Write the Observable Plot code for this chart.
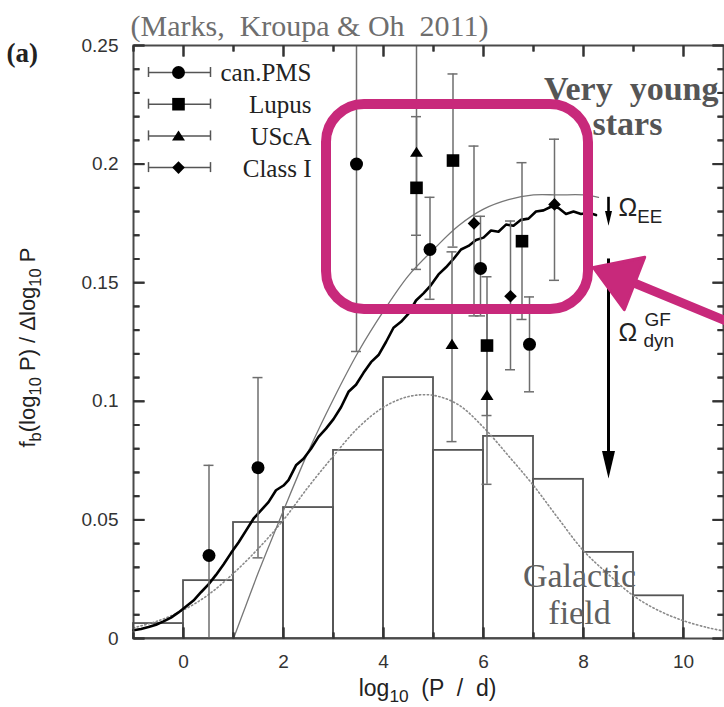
<!DOCTYPE html>
<html>
<head>
<meta charset="utf-8">
<script src="https://cdn.jsdelivr.net/npm/d3@7"></script>
<script src="https://cdn.jsdelivr.net/npm/@observablehq/plot@0.6"></script>
<style>
  html, body { margin: 0; padding: 0; background: #fff; }
  #chart { width: 724px; height: 707px; }
  #chart svg text { white-space: pre; }
</style>
</head>
<body>
<div id="chart"></div>
<script>
// ---------- data ----------
// Galactic-field binary fraction per unit log10(P/d) (histogram bins)
const binLo = [-1, 0, 1, 2, 3, 4, 5, 6, 7, 8, 9];
const binHi = [0, 1, 2, 3, 4, 5, 6, 7, 8, 9, 10];
const fieldFraction = [0.0063, 0.0244, 0.0489, 0.0552, 0.0793, 0.1100, 0.0793, 0.0852, 0.0671, 0.0363, 0.0180];

// log-normal description of the field (dotted)
const fitLogP = [-1, -0.5, 0, 0.5, 1, 1.5, 2, 2.5, 3, 3.5, 4, 4.5, 5, 5.5, 6, 6.5, 7, 7.5, 8, 8.5, 9, 9.5, 10, 10.5, 10.8];
const fitFrac = [0.0045, 0.0075, 0.0120, 0.0185, 0.0275, 0.0380, 0.0500, 0.0640, 0.0770, 0.0890, 0.0975, 0.1020, 0.1025, 0.0985, 0.0890, 0.0770, 0.0645, 0.0505, 0.0370, 0.0270, 0.0180, 0.0118, 0.0075, 0.0045, 0.0032];

// birth period distribution (thin line)
const birthLogP = [1, 1.25, 1.5, 2, 2.5, 3, 3.5, 4, 4.5, 5, 5.5, 6, 6.5, 7, 7.5, 8, 8.3];
const birthFrac = [0, 0.014, 0.028, 0.054, 0.079, 0.101, 0.121, 0.138, 0.153, 0.164, 0.174, 0.181, 0.185, 0.187, 0.187, 0.187, 0.186];

// dynamically processed population (thick line)
const evolvedLogP = [-1.00, -0.85, -0.70, -0.55, -0.40, -0.25, -0.10, 0.05, 0.20, 0.35, 0.50, 0.65, 0.80, 0.95, 1.10, 1.25, 1.40, 1.55, 1.70, 1.85, 2.00, 2.10, 2.25, 2.40, 2.55, 2.70, 2.85, 3.00, 3.15, 3.30, 3.45, 3.60, 3.75, 3.90, 4.05, 4.20, 4.35, 4.50, 4.65, 4.80, 4.95, 5.10, 5.25, 5.40, 5.55, 5.70, 5.85, 6.00, 6.15, 6.30, 6.45, 6.60, 6.75, 6.90, 7.05, 7.20, 7.35, 7.50, 7.65, 7.80, 7.95, 8.10, 8.25];
const evolvedFrac = [0.0035, 0.0040, 0.0048, 0.0058, 0.0072, 0.0088, 0.0110, 0.0135, 0.0160, 0.0195, 0.0228, 0.0268, 0.0312, 0.0360, 0.0405, 0.0455, 0.0505, 0.0540, 0.0575, 0.0625, 0.0645, 0.0668, 0.0730, 0.0758, 0.0800, 0.0850, 0.0885, 0.0925, 0.0975, 0.1040, 0.1070, 0.1120, 0.1165, 0.1195, 0.1250, 0.1310, 0.1335, 0.1370, 0.1425, 0.1455, 0.1490, 0.1535, 0.1565, 0.1600, 0.1640, 0.1655, 0.1680, 0.1690, 0.1720, 0.1715, 0.1745, 0.1740, 0.1765, 0.1770, 0.1800, 0.1805, 0.1820, 0.1815, 0.1790, 0.1800, 0.1790, 0.1795, 0.1785];

// observed young populations: log10 P, fraction, lower and upper error
const pmsLogP = [0.51, 1.49, 3.46, 4.93, 5.94, 6.92];
const pmsFrac = [0.035, 0.072, 0.200, 0.164, 0.156, 0.124];
const pmsLo   = [0, 0.034, 0.121, 0.143, 0.136, 0.104];
const pmsHi   = [0.073, 0.110, 0.270, 0.186, 0.178, 0.144];

const lupusLogP = [4.66, 5.39, 6.07, 6.77];
const lupusFrac = [0.190, 0.2015, 0.1235, 0.1675];
const lupusLo   = [0.1556, 0.165, 0.094, 0.1345];
const lupusHi   = [0.220, 0.238, 0.1525, 0.2006];

const uscaLogP = [4.66, 5.37, 6.07];
const uscaFrac = [0.205, 0.124, 0.1025];
const uscaLo   = [0.170, 0.083, 0.065];
const uscaHi   = [0.270, 0.163, 0.140];

const classILogP = [5.81, 6.54, 7.42];
const classIFrac = [0.175, 0.1443, 0.183];
const classILo   = [0.136, 0.1133, 0.151];
const classIHi   = [0.2076, 0.176, 0.2105];

const sampleNames = ["can.PMS", "Lupus", "UScA", "Class I"];

// axis ticks
const xTicks = [0, 2, 4, 6, 8, 10];
const xTickLabels = ["0", "2", "4", "6", "8", "10"];
const xMinorTicks = [-1, 1, 3, 5, 7, 9];
const yTicks = [0, 0.05, 0.1, 0.15, 0.2, 0.25];
const yTickLabels = ["0", "0.05", "0.1", "0.15", "0.2", "0.25"];
const yMinorTicks = [0.01, 0.02, 0.03, 0.04, 0.06, 0.07, 0.08, 0.09, 0.11, 0.12, 0.13, 0.14, 0.16, 0.17, 0.18, 0.19, 0.21, 0.22, 0.23, 0.24];

// Omega arrows at log10 P = 8.5 (from, to)
const omegaX = 8.5;
const omegaEE = [0.186, 0.174];
const omegaDyn = [0.160, 0.0675];

// ---------- layout ----------
const W = 724, H = 707;
const M = {left: 133, right: 1, top: 45, bottom: 69};
const xDomain = [-1, 10.8], yDomain = [0, 0.25];
const kx = (W - M.left - M.right) / (xDomain[1] - xDomain[0]);
const ky = (H - M.top - M.bottom) / (yDomain[1] - yDomain[0]);
const X = px => xDomain[0] + (px - M.left) / kx;   // page px -> log10 P
const Y = py => yDomain[0] + (H - M.bottom - py) / ky; // page px -> fraction

const serif = "'Liberation Serif', 'Times New Roman', serif";
const sans = "'Liberation Sans', Arial, Helvetica, sans-serif";
const magenta = "#c8297b";
const tickColor = "#333";

// ---------- symbols ----------
const squareSym = {draw(c, size) { const s = Math.sqrt(size / Math.PI); c.rect(-s, -s, 2 * s, 2 * s); }};
const triangleSym = {draw(c, size) { const s = Math.sqrt(size / Math.PI); c.moveTo(0, -0.85 * s); c.lineTo(s, 0.7 * s); c.lineTo(-s, 0.7 * s); c.closePath(); }};
const diamondSym = {draw(c, size) { const s = Math.sqrt(size / Math.PI); c.moveTo(0, -s); c.lineTo(s, 0); c.lineTo(0, s); c.lineTo(-s, 0); c.closePath(); }};
// arrowheads with the tip at the origin
const downHead = {draw(c, size) { const s = Math.sqrt(size / Math.PI); c.moveTo(0, 0); c.lineTo(-s / 2, -2.1 * s); c.lineTo(s / 2, -2.1 * s); c.closePath(); }};
const upHead = {draw(c, size) { const s = Math.sqrt(size / Math.PI); c.moveTo(0, 0); c.lineTo(-0.64 * s, s); c.lineTo(0.64 * s, s); c.closePath(); }};
// tick-mark glyph: a segment of length r pointing inward from the axis
const tickGlyph = (dx, dy) => ({draw(c, size) { const s = Math.sqrt(size / Math.PI); c.moveTo(0, 0); c.lineTo(dx * s, dy * s); }});

// ---------- tables ----------
const bins = binLo.map((lo, i) => ({lo, hi: binHi[i], f: fieldFraction[i]}));
const fitCurve = fitLogP.map((x, i) => ({x, y: fitFrac[i]}));
const birthCurve = birthLogP.map((x, i) => ({x, y: birthFrac[i]}));
const evolvedCurve = evolvedLogP.map((x, i) => ({x, y: evolvedFrac[i]}));

const samples = [
  {name: sampleNames[0], symbol: "circle", r: 6.5, logP: pmsLogP, f: pmsFrac, lo: pmsLo, hi: pmsHi},
  {name: sampleNames[1], symbol: squareSym, r: 6.3, logP: lupusLogP, f: lupusFrac, lo: lupusLo, hi: lupusHi},
  {name: sampleNames[2], symbol: triangleSym, r: 6.5, logP: uscaLogP, f: uscaFrac, lo: uscaLo, hi: uscaHi},
  {name: sampleNames[3], symbol: diamondSym, r: 6.3, logP: classILogP, f: classIFrac, lo: classILo, hi: classIHi}
];
const points = samples.flatMap(s => s.logP.map((x, i) => ({sample: s.name, x, f: s.f[i], lo: s.lo[i], hi: s.hi[i]})));
const caps = points.flatMap(p => [p.lo, p.hi].filter(v => v > 0 && v < yDomain[1]).map(y => ({x: p.x, y})));

// legend rows (layout)
const legendRows = samples.map((s, i) => ({...s, y: Y(72 + 31.7 * i), ty: 80 + 32 * i}));
const legendCaps = legendRows.flatMap(r => [X(148), X(210)].map(x => ({x, y1: r.y - 5 / ky, y2: r.y + 5 / ky})));

// tick positions on all four sides
const tickRows = [
  ...xTicks.map(x => ({x, y: yDomain[0], len: 11, side: "b"})),
  ...xTicks.map(x => ({x, y: yDomain[1], len: 11, side: "t"})),
  ...xMinorTicks.map(x => ({x, y: yDomain[0], len: 6, side: "b"})),
  ...xMinorTicks.map(x => ({x, y: yDomain[1], len: 6, side: "t"})),
  ...yTicks.map(y => ({x: xDomain[0], y, len: 11, side: "l"})),
  ...yTicks.map(y => ({x: xDomain[1], y, len: 11, side: "r"})),
  ...yMinorTicks.map(y => ({x: xDomain[0], y, len: 6, side: "l"})),
  ...yMinorTicks.map(y => ({x: xDomain[1], y, len: 6, side: "r"}))
];
const glyphs = {b: tickGlyph(0, -1), t: tickGlyph(0, 1), l: tickGlyph(1, 0), r: tickGlyph(-1, 0)};
// the same ticks as segments in data units
const tickSegs = tickRows.map(d => {
  const ux = d.side === "l" ? d.len / kx : d.side === "r" ? -d.len / kx : 0;
  const uy = d.side === "b" ? d.len / ky : d.side === "t" ? -d.len / ky : 0;
  return {x1: d.x, y1: d.y, x2: d.x + ux, y2: d.y + uy};
});

// highlighted region and pointer
const highlight = [{x1: X(326), x2: X(588), y1: Y(309), y2: Y(104)}];
const pointer = [{x1: X(734), y1: Y(324), x2: X(630), y2: Y(281)}];
const pointerTip = [{x: X(593), y: Y(267)}];

// text placed relative to the frame's top-left corner, baseline at py
const label = (text, px, py, o = {}) => Plot.text([text], {
  text: d => d, frameAnchor: "top-left", dx: px - M.left, dy: py - M.top,
  lineAnchor: "bottom", textAnchor: "start", ...o
});

const tickMarks = ["b", "t", "l", "r"].flatMap(side => [11, 6].map(len =>
  Plot.dot(tickRows.filter(d => d.side === side && d.len === len), {
    x: "x", y: "y", symbol: glyphs[side], r: len, fill: "none", stroke: tickColor, strokeWidth: 2
  })));

const svg = Plot.plot({
  width: W, height: H,
  marginLeft: M.left, marginRight: M.right, marginTop: M.top, marginBottom: M.bottom,
  x: {domain: xDomain, axis: null},
  y: {domain: yDomain, axis: null},
  style: {fontFamily: sans, color: "#333", background: "#fff", overflow: "visible"},
  marks: [
    // field histogram
    Plot.rect(bins, {x1: "lo", x2: "hi", y1: 0, y2: "f", fill: "none", stroke: "#555", strokeWidth: 1.8}),
    // model curves
    Plot.line(fitCurve, {x: "x", y: "y", stroke: "#8a8a8a", strokeWidth: 1.6, strokeDasharray: "1.3 2.6", curve: "catmull-rom"}),
    Plot.line(birthCurve, {x: "x", y: "y", stroke: "#777", strokeWidth: 1.3, curve: "catmull-rom"}),
    Plot.line(evolvedCurve, {x: "x", y: "y", stroke: "#000", strokeWidth: 2.6, strokeLinejoin: "round"}),
    // observations with error bars
    Plot.ruleX(points, {x: "x", y1: "lo", y2: d => Math.min(d.hi, yDomain[1]), stroke: "#6e6e6e", strokeWidth: 1.5}),
    Plot.ruleY(caps, {y: "y", x1: d => d.x - 0.1, x2: d => d.x + 0.1, stroke: "#6e6e6e", strokeWidth: 1.5}),
    ...samples.map(s => Plot.dot(points.filter(p => p.sample === s.name), {x: "x", y: "f", symbol: s.symbol, r: s.r, fill: "#000", stroke: "none"})),
    // legend
    Plot.ruleY(legendRows, {y: "y", x1: X(148), x2: X(210), stroke: "#555", strokeWidth: 1.5}),
    Plot.ruleX(legendCaps, {x: "x", y1: "y1", y2: "y2", stroke: "#555", strokeWidth: 1.5}),
    ...legendRows.map(r => Plot.dot([r], {x: X(178), y: "y", symbol: r.symbol, r: r.r, fill: "#000", stroke: "none"})),
    ...legendRows.map(r => label(r.name, 311, r.ty, {textAnchor: "end", fontFamily: serif, fontSize: 25, fill: "#222"})),
    // frame and ticks
    Plot.frame({stroke: "#4a4a4a", strokeWidth: 2}),
    ...tickMarks,
    Plot.link(tickSegs, {x1: "x1", y1: "y1", x2: "x2", y2: "y2", stroke: tickColor, strokeWidth: 2}),
    Plot.axisX(xTicks, {anchor: "bottom", tickSize: 0, tickPadding: 16, fontSize: 19, fill: "#333",
      tickFormat: d => xTickLabels[xTicks.indexOf(d)], label: null}),
    Plot.axisY(yTicks, {anchor: "left", tickSize: 0, tickPadding: 15, fontSize: 19, fill: "#333",
      tickFormat: d => yTickLabels[yTicks.indexOf(d)], label: null}),
    // axis titles
    label("log_{10}  (P  /  d)", 427, 695, {textAnchor: "middle", fontSize: 23, fill: "#222", className: "rich"}),
    Plot.text(["f_{b}(log_{10} P) / Δlog_{10} P"], {text: d => d, frameAnchor: "top-left", dx: 34 - M.left, dy: 347 - M.top,
      rotate: -90, lineAnchor: "bottom", textAnchor: "middle", fontSize: 22, fill: "#222", className: "rich"}),
    // Omega arrows
    Plot.ruleX([omegaEE], {x: omegaX, y1: d => d[0], y2: d => d[1] + 8 / ky, stroke: "#000", strokeWidth: 2.6}),
    Plot.dot([omegaEE], {x: omegaX, y: d => d[1], symbol: downHead, r: 7, fill: "#000", stroke: "none"}),
    Plot.ruleX([omegaDyn], {x: omegaX, y1: d => d[0], y2: d => d[1] + 15 / ky, stroke: "#000", strokeWidth: 3}),
    Plot.dot([omegaDyn], {x: omegaX, y: d => d[1], symbol: downHead, r: 13, fill: "#000", stroke: "none"}),
    label("Ω_{EE}", 618, 215, {fontSize: 25, fill: "#222", className: "rich"}),
    label("Ω", 618, 340, {fontSize: 25, fill: "#222"}),
    label("GF", 644, 325, {fontSize: 19, fill: "#222"}),
    label("dyn", 643, 346, {fontSize: 19, fill: "#222"}),
    // annotations
    label("(a)", 6, 61, {fontFamily: serif, fontWeight: "bold", fontSize: 27, fill: "#222"}),
    label("(Marks,\u00a0 Kroupa & Oh\u00a0 2011)", 130, 35, {fontFamily: serif, fontSize: 30, fill: "#6e6e6e"}),
    label("Galactic", 579, 586, {textAnchor: "middle", fontFamily: serif, fontSize: 34, fill: "#606060"}),
    label("field", 579, 623, {textAnchor: "middle", fontFamily: serif, fontSize: 34, fill: "#606060"}),
    label("Very\u00a0 young", 718, 99, {textAnchor: "end", fontFamily: serif, fontWeight: "bold", fontSize: 34, fill: "#555"}),
    label("stars", 627, 134, {textAnchor: "middle", fontFamily: serif, fontWeight: "bold", fontSize: 34, fill: "#555"}),
    // highlighted region
    Plot.rect(highlight, {x1: "x1", x2: "x2", y1: "y1", y2: "y2", rx: 38, fill: "none", stroke: magenta, strokeWidth: 10}),
    Plot.link(pointer, {x1: "x1", y1: "y1", x2: "x2", y2: "y2", stroke: magenta, strokeWidth: 9, strokeLinecap: "round"}),
    Plot.dot(pointerTip, {x: "x", y: "y", symbol: upHead, r: 44, rotate: -68.7, fill: magenta, stroke: magenta, strokeWidth: 3, strokeLinejoin: "round"})
  ]
});

// sub/superscripts written as _{..} and ^{..}
function richParts(s) {
  const out = [], re = /([_^])\{([^}]*)\}/g;
  let m, last = 0;
  while ((m = re.exec(s))) {
    if (m.index > last) out.push({t: s.slice(last, m.index), k: 0});
    out.push({t: m[2], k: m[1] === "_" ? 1 : -1});
    last = re.lastIndex;
  }
  if (last < s.length) out.push({t: s.slice(last), k: 0});
  return out;
}
d3.select(svg).selectAll(".rich text").each(function () {
  const el = d3.select(this);
  const parts = richParts(el.text());
  el.text(null);
  let cur = 0;
  for (const p of parts) {
    const target = p.k === 1 ? 0.3 : p.k === -1 ? -0.45 : 0;
    const scale = p.k ? 0.75 : 1;
    const ts = el.append("tspan").text(p.t);
    if (p.k) ts.attr("font-size", "75%");
    if (target !== cur) ts.attr("dy", `${(target - cur) / scale}em`);
    cur = target;
  }
});

document.getElementById("chart").appendChild(svg);
</script>
</body>
</html>
